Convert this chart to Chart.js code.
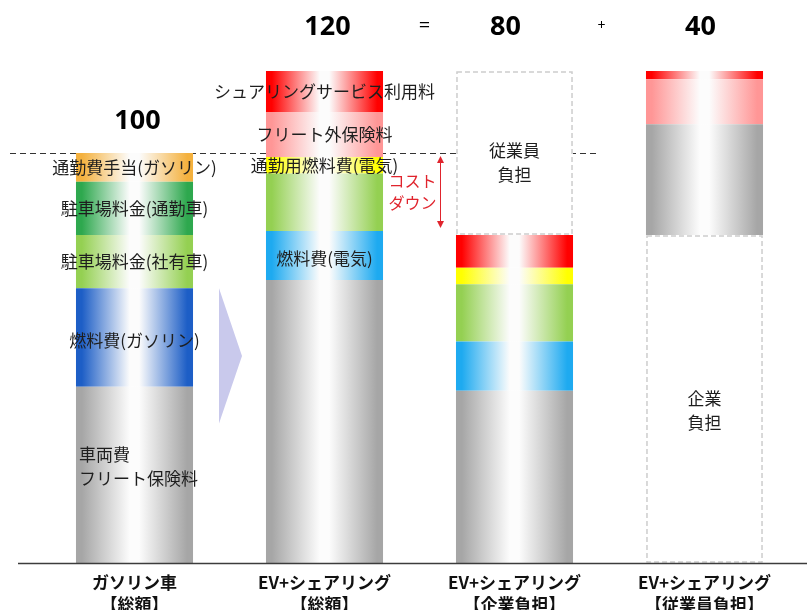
<!DOCTYPE html>
<html lang="ja">
<head>
<meta charset="utf-8">
<title>ガソリン車とEV+シェアリングのコスト比較</title>
<script src="https://cdn.jsdelivr.net/npm/chart.js@4.4.1/dist/chart.umd.min.js"></script>
<style>
  html, body { margin: 0; padding: 0; background: #fff; overflow: hidden; }
  canvas { display: block; }
</style>
</head>
<body>
<canvas id="chCost" width="807" height="620"></canvas>
<script>
/* cost comparison: gasoline car vs EV + car sharing (stacked bars) */

var categories = [
  ['ガソリン車', '【総額】'],
  ['EV+シェアリング', '【総額】'],
  ['EV+シェアリング', '【企業負担】'],
  ['EV+シェアリング', '【従業員負担】']
];

// stack items, bottom to top, one value per column
var companyShare     = [0, 0, 0, 80];   // 企業負担 (empty box)
var vehicleCost      = [43, 69, 42, 27];
var fuelCost         = [24, 12, 12, 0];
var parkingFleet     = [13, 14, 14, 0];
var parkingCommute   = [13, 0, 0, 0];
var commuteAllowance = [7, 0, 0, 0];
var commuteFuelEV    = [0, 4, 4, 0];
var extraInsurance   = [0, 11, 0, 11];
var sharingFee       = [0, 10, 8, 2];
var employeeShare    = [0, 0, 40, 0];   // 従業員負担 (empty box)

// text written on the segments
var vehicleNotes   = [['車両費', 'フリート保険料'], null, null, null];
var fuelNotes      = ['燃料費(ガソリン)', '燃料費(電気)', null, null];
var fleetNotes     = ['駐車場料金(社有車)', null, null, null];
var commuteNotes   = ['駐車場料金(通勤車)', null, null, null];
var allowanceNotes = ['通勤費手当(ガソリン)', null, null, null];
var evFuelNotes    = [null, '通勤用燃料費(電気)', null, null];
var insuranceNotes = [null, 'フリート外保険料', null, null];
var sharingNotes   = [null, 'シュアリングサービス利用料', null, null];
var companyNotes   = [null, null, null, ['企業', '負担']];
var employeeNotes  = [null, null, ['従業員', '負担'], null];

var barShare = 0.616;
var jpFont = '"Noto Sans CJK JP", "Noto Sans", sans-serif';

// horizontal shine: solid edges, soft white in the middle of each bar
function shine(color) {
  return function (ctx) {
    var c = Array.isArray(color) ? color[ctx.dataIndex] : color;
    var chart = ctx.chart;
    if (!chart.chartArea || ctx.dataIndex === undefined) return c;
    var xs = chart.scales.x;
    var cx = xs.getPixelForValue(ctx.dataIndex);
    var half = xs.width / categories.length * barShare / 2;
    var g = chart.ctx.createLinearGradient(cx - half, 0, cx + half, 0);
    g.addColorStop(0, c);
    g.addColorStop(0.05, c);
    g.addColorStop(0.46, '#fcfcfc');
    g.addColorStop(0.54, '#fcfcfc');
    g.addColorStop(0.95, c);
    g.addColorStop(1, c);
    return g;
  };
}

function sumAt(sets, i) {
  return sets.reduce(function (s, d) { return s + d[i]; }, 0);
}
var costSets = [vehicleCost, fuelCost, parkingFleet, parkingCommute, commuteAllowance,
                commuteFuelEV, extraInsurance, sharingFee];
var totals = categories.map(function (_, i) { return sumAt(costSets, i); });

var datasets = [
  { label: '企業負担', data: companyShare, backgroundColor: '#ffffff', box: true, notes: companyNotes, noteShift: 12 },
  { label: '車両費', data: vehicleCost, backgroundColor: shine('#a6a6a6'), notes: vehicleNotes, noteAlign: 'left', noteShift: -8 },
  { label: '燃料費', data: fuelCost, backgroundColor: shine(['#1d5ec6', '#1eaaf0', '#1eaaf0', '#1eaaf0']), notes: fuelNotes, noteShift: 3 },
  { label: '駐車場料金(社有車)', data: parkingFleet, backgroundColor: shine('#94d052'), notes: fleetNotes },
  { label: '駐車場料金(通勤車)', data: parkingCommute, backgroundColor: shine('#2ea84e'), notes: commuteNotes },
  { label: '通勤費手当', data: commuteAllowance, backgroundColor: shine('#f4b13e'), notes: allowanceNotes },
  { label: '通勤用燃料費', data: commuteFuelEV, backgroundColor: shine('#ffff00'), notes: evFuelNotes },
  { label: 'フリート外保険料', data: extraInsurance, backgroundColor: shine('#ff9696'), notes: insuranceNotes },
  { label: 'シェアリング利用料', data: sharingFee, backgroundColor: shine('#ff0000'), notes: sharingNotes },
  { label: '従業員負担', data: employeeShare, backgroundColor: '#ffffff', box: true, notes: employeeNotes, noteShift: 10 }
];

var costNotes = {
  id: 'costNotes',
  beforeDatasetsDraw: function (chart) {
    // dashed line at the gasoline total, running behind the bars
    var c = chart.ctx, ys = chart.scales.y, xs = chart.scales.x;
    var yy = Math.round(ys.getPixelForValue(totals[0])) + 0.5;
    c.save();
    c.strokeStyle = '#333';
    c.lineWidth = 1;
    c.setLineDash([6, 4]);
    c.beginPath();
    c.moveTo(10, yy);
    c.lineTo(xs.getPixelForValue(2) + 84, yy);
    c.stroke();
    c.restore();
  },
  afterDatasetsDraw: function (chart) {
    var c = chart.ctx, ys = chart.scales.y, xs = chart.scales.x;
    var cx = categories.map(function (_, i) { return xs.getPixelForValue(i); });
    c.save();

    // dashed outline for the share boxes
    chart.data.datasets.forEach(function (ds, di) {
      if (!ds.box) return;
      chart.getDatasetMeta(di).data.forEach(function (el, i) {
        if (!ds.data[i]) return;
        var p = el.getProps(['x', 'y', 'base', 'width'], true);
        c.strokeStyle = '#cdcdcd';
        c.lineWidth = 1.5;
        c.setLineDash([5, 3]);
        c.strokeRect(p.x - p.width / 2 + 1, p.y + 1, p.width - 2, p.base - p.y - 2);
      });
    });
    c.setLineDash([]);

    // segment captions
    c.fillStyle = '#1e1e1e';
    c.font = '17px ' + jpFont;
    c.textBaseline = 'middle';
    chart.data.datasets.forEach(function (ds, di) {
      if (!ds.notes) return;
      chart.getDatasetMeta(di).data.forEach(function (el, i) {
        var note = ds.notes[i];
        if (!note) return;
        var p = el.getProps(['x', 'y', 'base', 'width'], true);
        var lines = Array.isArray(note) ? note : [note];
        var mid = (p.y + p.base) / 2 + (ds.noteShift || 0);
        var tx = p.x;
        c.textAlign = 'center';
        if (ds.noteAlign === 'left') { c.textAlign = 'left'; tx = p.x - p.width / 2 + 3; }
        lines.forEach(function (t, k) {
          c.fillText(t, tx, mid + (k - (lines.length - 1) / 2) * 24);
        });
      });
    });

    // totals and the 120 = 80 + 40 line
    c.fillStyle = '#000';
    c.textAlign = 'center';
    c.font = 'bold 27px "Noto Sans", sans-serif';
    c.fillText(String(totals[0]), cx[0] + 3, ys.getPixelForValue(totals[0]) - 32);
    c.fillText(String(totals[1]), cx[1] + 3, 27);
    c.fillText(String(totals[2]), cx[2] - 9, 27);
    c.fillText(String(totals[3]), cx[3] - 4, 27);
    c.font = '20px "Noto Sans", sans-serif';
    c.fillText('=', (cx[1] + cx[2]) / 2 + 5, 26);
    c.font = '14px "Noto Sans", sans-serif';
    c.fillText('+', (cx[2] + cx[3]) / 2 - 8, 26);

    // cost-down arrow between the two dashed levels
    var ax = (cx[1] + cx[2]) / 2 + 21;
    var aTop = ys.getPixelForValue(totals[0]) + 3;
    var aBot = ys.getPixelForValue(totals[2]) - 7;
    c.strokeStyle = '#e0242d';
    c.fillStyle = '#e0242d';
    c.lineWidth = 1;
    c.beginPath();
    c.moveTo(ax, aTop + 5);
    c.lineTo(ax, aBot - 5);
    c.stroke();
    c.beginPath();
    c.moveTo(ax, aTop); c.lineTo(ax - 3.5, aTop + 7); c.lineTo(ax + 3.5, aTop + 7);
    c.closePath(); c.fill();
    c.beginPath();
    c.moveTo(ax, aBot); c.lineTo(ax - 3.5, aBot - 7); c.lineTo(ax + 3.5, aBot - 7);
    c.closePath(); c.fill();
    c.font = '16px ' + jpFont;
    c.textAlign = 'right';
    var am = (aTop + aBot) / 2;
    c.fillText('コスト', ax - 4, am - 11);
    c.fillText('ダウン', ax - 4, am + 11);

    // chevron from the gasoline bar to the EV bar
    var vx = cx[0] + 84.5;
    c.fillStyle = '#c9c9ec';
    c.beginPath();
    c.moveTo(vx, ys.getPixelForValue(67));
    c.lineTo(vx + 23, ys.getPixelForValue(50.5));
    c.lineTo(vx, ys.getPixelForValue(34));
    c.closePath();
    c.fill();

    // ground line
    var y0 = Math.round(ys.getPixelForValue(0)) + 0.5;
    c.strokeStyle = '#3c3c3c';
    c.lineWidth = 1.3;
    c.beginPath();
    c.moveTo(18, y0);
    c.lineTo(chart.width, y0);
    c.stroke();
    c.restore();
  }
};

var chCost = document.getElementById('chCost');
if (chCost) {
  new Chart(chCost, {
    type: 'bar',
    data: { labels: categories, datasets: datasets },
    options: {
      responsive: false,
      animation: false,
      devicePixelRatio: 1,
      layout: { padding: { left: 39.5, right: 7.5, top: 71, bottom: 0 } },
      datasets: { bar: { categoryPercentage: barShare, barPercentage: 1, borderWidth: 0 } },
      plugins: { legend: { display: false }, tooltip: { enabled: false } },
      scales: {
        x: {
          stacked: true,
          grid: { display: false },
          border: { display: false },
          ticks: {
            color: '#111',
            padding: 0,
            font: { family: jpFont, size: 17, weight: 'bold', lineHeight: 1.3 }
          },
          afterFit: function (scale) { scale.height = 57; }
        },
        y: { stacked: true, display: false, min: 0, max: 120 }
      }
    },
    plugins: [costNotes]
  });
}
</script>
</body>
</html>
